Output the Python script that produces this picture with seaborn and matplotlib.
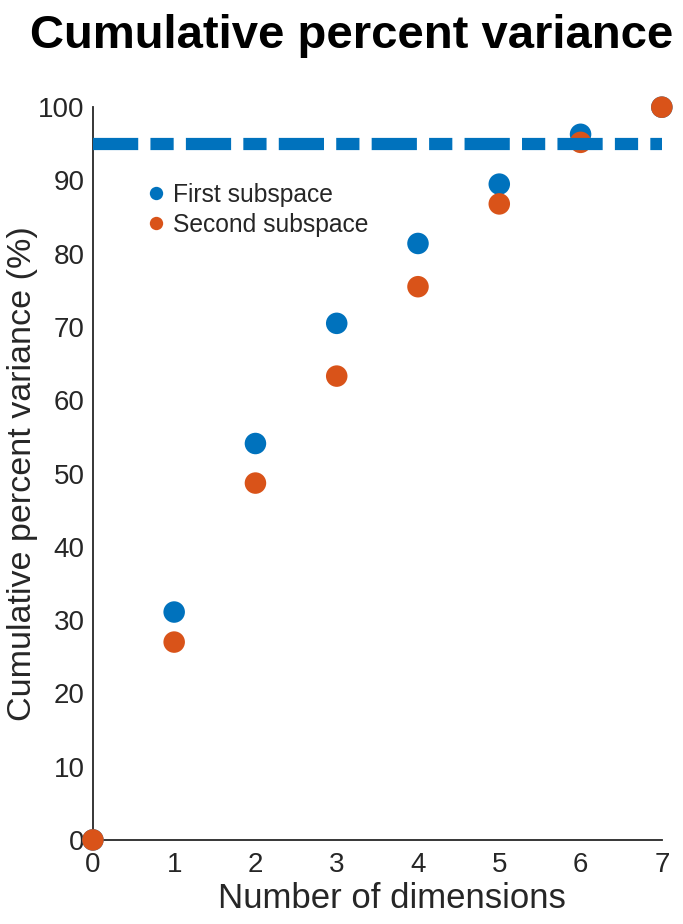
import matplotlib
matplotlib.use("Agg")
import matplotlib.pyplot as plt
import seaborn as sns
import numpy as np
import pandas as pd

# data
dims = [0, 1, 2, 3, 4, 5, 6, 7]
first_sub = [0, 31.1, 54.1, 70.5, 81.4, 89.5, 96.3, 100]
second_sub = [0, 27.0, 48.7, 63.3, 75.5, 86.8, 95.2, 100]
threshold = 95
series_names = ["First subspace", "Second subspace"]
colors = ["#0072BD", "#D95319"]

df = pd.DataFrame({
    "dims": dims * 2,
    "pct": first_sub + second_sub,
    "subspace": [series_names[0]] * len(dims) + [series_names[1]] * len(dims),
})

sns.set_theme(style="white")
plt.rcParams['font.family'] = ['Liberation Sans', 'DejaVu Sans']
ink = "#262626"

fig = plt.figure(figsize=(6.83, 9.24), dpi=100)
ax = fig.add_axes([0.136, 0.091, 0.833, 0.793])

sns.scatterplot(data=df, x="dims", y="pct", hue="subspace",
                palette=colors, s=240, linewidth=0, ax=ax, zorder=3)
for c in ax.collections:
    c.set_clip_on(False)

ax.axhline(threshold, color=colors[0], lw=8.8, zorder=4,
           dashes=(3.7, 1.0, 1.9, 1.0), dash_capstyle="butt")

ax.set_xlim(0, 7)
ax.set_ylim(0, 100)
ax.set_xticks(range(0, 8))
ax.set_yticks(range(0, 101, 10))
sns.despine(ax=ax)
for s in ["left", "bottom"]:
    ax.spines[s].set_color(ink)
    ax.spines[s].set_linewidth(1.3)
ax.tick_params(direction="in", length=6, width=1.3, color=ink,
               labelcolor=ink, labelsize=20, pad=6)
ax.tick_params(axis="x", pad=9)

ax.set_xlabel("Number of dimensions", fontsize=25, color=ink)
ax.xaxis.set_label_coords(0.526, -0.058)
ax.set_ylabel("Cumulative percent variance (%)", fontsize=24.5, color=ink)
ax.yaxis.set_label_coords(-0.097, 0.5)
fig.suptitle("Cumulative percent variance", fontsize=34, fontweight="bold",
             x=0.515, y=0.985, color="black")

leg = ax.legend(loc="upper left", bbox_to_anchor=(0.09, 0.897), frameon=False,
                fontsize=17.7, handlelength=1.0, handletextpad=0.18,
                labelspacing=0.26, markerscale=0.62, borderpad=0,
                borderaxespad=0)
for h in leg.legend_handles:
    h.set_markeredgewidth(0)

fig.savefig("out.png", dpi=100)
